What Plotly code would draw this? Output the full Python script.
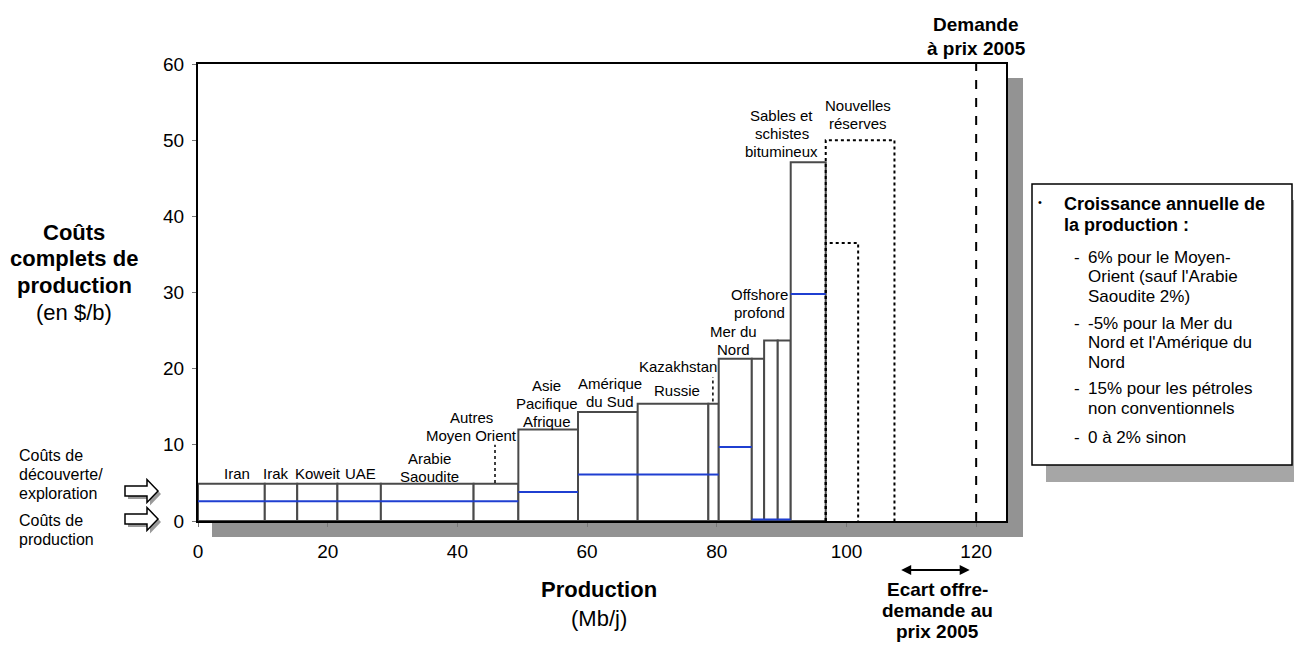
import plotly.graph_objects as go

# ---------------- data ----------------
segments = ["Iran", "Irak", "Koweit", "UAE", "Arabie Saoudite", "Autres Moyen Orient",
            "Asie Pacifique Afrique", "Amérique du Sud", "Russie", "Kazakhstan",
            "Mer du Nord", "Amérique du Nord", "Offshore profond A", "Offshore profond B",
            "Sables et schistes bitumineux"]
widths = [10.3, 5.0, 6.2, 6.7, 14.3, 6.9, 9.2, 9.2, 10.9, 1.6, 5.1, 1.9, 2.1, 2.0, 5.4]
full_costs = [4.9, 4.9, 4.9, 4.9, 4.9, 4.9, 12.0, 14.3, 15.4, 15.4, 21.3, 21.3, 23.7, 23.7, 47.1]
production_costs = [2.6, 2.6, 2.6, 2.6, 2.6, 2.6, 3.8, 6.1, 6.1, 6.1, 9.7, 0.2, 0.2, 0.2, 29.8]
new_reserve_widths = [5.0, 10.6]
new_reserve_costs = [36.5, 50.0]
demand_2005 = 120
x_ticks = [0, 20, 40, 60, 80, 100, 120]
y_ticks = [0, 10, 20, 30, 40, 50, 60]

FONT = "Liberation Sans, Arial, Helvetica, sans-serif"

# geometry of the plotting area in pixels (for paper-referenced decorations)
W, H = 1294, 646
L, R, T, B = 198, 288, 64, 125
PW, PH = W - L - R, H - T - B
def px(xp):
    return (xp - L) / PW
def py(yp):
    return (H - B - yp) / PH

starts = []
acc = 0.0
for w in widths:
    starts.append(acc)
    acc += w
centers = [s + w / 2 for s, w in zip(starts, widths)]
reserve_start = acc

fig = go.Figure()

# boxes of full cost
fig.add_trace(go.Bar(x=centers, y=full_costs, width=widths, base=0,
                     marker=dict(color="white", line=dict(color="#4a4a4a", width=2)),
                     hoverinfo="skip", showlegend=False))

# production-cost lines (blue)
bx, by = [], []
for s, w, p in zip(starts, widths, production_costs):
    bx += [s, s + w, None]
    by += [p, p, None]
fig.add_trace(go.Scatter(x=bx, y=by, mode="lines", line=dict(color="#1f3fd1", width=2),
                         hoverinfo="skip", showlegend=False))

# new reserves (dotted boxes)
for w, c in zip(new_reserve_widths, new_reserve_costs):
    fig.add_trace(go.Scatter(x=[reserve_start, reserve_start, reserve_start + w, reserve_start + w],
                             y=[0, c, c, 0], mode="lines",
                             line=dict(color="black", width=2, dash="dot"),
                             hoverinfo="skip", showlegend=False))

# small dotted pointer lines
fig.add_trace(go.Scatter(x=[45.8, 45.8], y=[5.0, 10.0], mode="lines",
                         line=dict(color="black", width=1.5, dash="dot"),
                         hoverinfo="skip", showlegend=False))
fig.add_trace(go.Scatter(x=[79.4, 79.4], y=[15.7, 18.9], mode="lines",
                         line=dict(color="black", width=1.5, dash="dot"),
                         hoverinfo="skip", showlegend=False))

# demand line
fig.add_trace(go.Scatter(x=[demand_2005, demand_2005], y=[0, 60], mode="lines",
                         line=dict(color="black", width=2, dash="dash"),
                         hoverinfo="skip", showlegend=False))

shapes = []
# plot shadow + white background
shapes.append(dict(type="rect", xref="paper", yref="paper", x0=px(212), x1=px(1023),
                   y0=py(537), y1=py(78), fillcolor="#939393", line=dict(width=0), layer="below"))
shapes.append(dict(type="rect", xref="paper", yref="paper", x0=0, x1=1, y0=0, y1=1,
                   fillcolor="white", line=dict(width=0), layer="below"))
# text box shadow + box
shapes.append(dict(type="rect", xref="paper", yref="paper", x0=px(1046), x1=px(1310),
                   y0=py(482), y1=py(200), fillcolor="#a6a6a6", line=dict(width=0), layer="above"))
shapes.append(dict(type="rect", xref="paper", yref="paper", x0=px(1032), x1=px(1292),
                   y0=py(465), y1=py(184), fillcolor="white",
                   line=dict(color="black", width=1.5), layer="above"))

def block_arrow(yc, dx=0, dy=0):
    x0, xh, xt = 125 + dx, 147 + dx, 158 + dx
    yc = yc + dy
    pts = [(x0, yc - 5), (xh, yc - 5), (xh, yc - 11.5), (xt, yc), (xh, yc + 11.5),
           (xh, yc + 5), (x0, yc + 5)]
    return "M " + " L ".join(f"{px(a):.5f},{py(b):.5f}" for a, b in pts) + " Z"

for yc in [491, 519]:
    shapes.append(dict(type="path", xref="paper", yref="paper", path=block_arrow(yc, 3, 3),
                       fillcolor="#9a9a9a", line=dict(width=0), layer="above"))
    shapes.append(dict(type="path", xref="paper", yref="paper", path=block_arrow(yc),
                       fillcolor="white", line=dict(color="black", width=1.5), layer="above"))

annotations = []
def ann(text, x, y, xref="x", yref="y", size=15, bold=False, xanchor="center",
        yanchor="middle", yshift=0):
    t = f"<b>{text}</b>" if bold else text
    annotations.append(dict(text=t, x=x, y=y, xref=xref, yref=yref, showarrow=False,
                            xanchor=xanchor, yanchor=yanchor, yshift=yshift,
                            font=dict(family=FONT, size=size, color="black")))

# segment labels (data coords), lines 18px apart
seg_labels = [
    (["Iran"], 5.95, 6.3), (["Irak"], 12.1, 6.3), (["Koweit"], 18.5, 6.3),
    (["UAE"], 25.1, 6.3), (["Arabie", "Saoudite"], 35.7, 8.27),
    (["Autres", "Moyen Orient"], 42.1, 13.6),
    (["Asie", "Pacifique", "Afrique"], 53.8, 17.85),
    (["Amérique", "du Sud"], 63.5, 18.1), (["Russie"], 73.8, 17.07),
    (["Kazakhstan"], 74.0, 20.26), (["Mer du", "Nord"], 82.6, 24.85),
    (["Offshore", "profond"], 86.6, 29.7),
    (["Sables et", "schistes", "bitumineux"], 90.0, 53.3),
    (["Nouvelles", "réserves"], 101.8, 54.5),
]
for lines, x, y in seg_labels:
    for i, line in enumerate(lines):
        ann(line, x, y, yshift=-18 * i)

# demand label
ann("Demande", demand_2005, py(25), yref="paper", size=19, bold=True)
ann("à prix 2005", demand_2005, py(48), yref="paper", size=19, bold=True)

# x title
ann("Production", 61.85, py(589), yref="paper", size=22, bold=True)
ann("(Mb/j)", 61.85, py(618), yref="paper", size=22)

# gap label + double arrow
for i, line in enumerate(["Ecart offre-", "demande au", "prix 2005"]):
    ann(line, 114.1, py(589 + 21 * i), yref="paper", size=19, bold=True)
annotations.append(dict(text="", x=demand_2005 - 1, y=py(570), xref="x", yref="paper",
                        ax=-70, ay=0, axref="pixel", ayref="pixel", showarrow=True,
                        arrowhead=2, arrowside="end+start", arrowsize=1, arrowwidth=2,
                        arrowcolor="black", standoff=0, startstandoff=0))

# y title
for i, (line, b) in enumerate([("Coûts", True), ("complets de", True),
                               ("production", True), ("(en $/b)", False)]):
    ann(line, px(74), py(232 + 26.7 * i), xref="paper", yref="paper", size=22, bold=b)

# cost kind labels
for line, yy in [("Coûts de", 455), ("découverte/", 474), ("exploration", 493),
                 ("Coûts de", 520), ("production", 539)]:
    ann(line, px(17), py(yy), xref="paper", yref="paper", size=16, xanchor="left")

# text box contents
ann("•", px(1036), py(202), xref="paper", yref="paper", size=11, xanchor="left")
ann("Croissance annuelle de", px(1062), py(204), xref="paper", yref="paper", size=18,
    bold=True, xanchor="left")
ann("la production :", px(1062), py(225), xref="paper", yref="paper", size=18,
    bold=True, xanchor="left")
items = [
    ["6% pour le Moyen-", "Orient (sauf l'Arabie", "Saoudite 2%)"],
    ["-5% pour la Mer du", "Nord et l'Amérique du", "Nord"],
    ["15% pour les pétroles", "non conventionnels"],
    ["0 à 2% sinon"],
]
item_y = [257, 323, 389, 437]
for lines, y0 in zip(items, item_y):
    ann("-", px(1072), py(y0), xref="paper", yref="paper", size=17, xanchor="left")
    for i, line in enumerate(lines):
        ann(line, px(1086), py(y0 + 19.6 * i), xref="paper", yref="paper", size=17,
            xanchor="left")

fig.update_layout(
    width=W, height=H, autosize=False,
    margin=dict(l=L, r=R, t=T, b=B, pad=0),
    paper_bgcolor="white", plot_bgcolor="rgba(0,0,0,0)",
    font=dict(family=FONT, size=19, color="black"),
    shapes=shapes, annotations=annotations, showlegend=False,
    xaxis=dict(type="linear", range=[0, 124.6], tickvals=x_ticks, ticktext=[str(v) for v in x_ticks],
               showgrid=False, zeroline=False, showline=True, mirror=True,
               linecolor="black", linewidth=2, ticks="outside", ticklen=4,
               tickcolor="#777", tickwidth=1, ticklabelstandoff=8,
               tickfont=dict(family=FONT, size=19, color="black"), fixedrange=True),
    yaxis=dict(range=[0, 60], tickvals=y_ticks, ticktext=[str(v) for v in y_ticks],
               showgrid=False, zeroline=False, showline=True, mirror=True,
               linecolor="black", linewidth=2, ticks="outside", ticklen=4,
               tickcolor="#777", tickwidth=1, ticklabelstandoff=4,
               tickfont=dict(family=FONT, size=19, color="black"), fixedrange=True),
)

fig.write_html("out.html", config={"displayModeBar": False},
               post_script="document.body.style.margin='0px';document.body.style.overflow='hidden';")
